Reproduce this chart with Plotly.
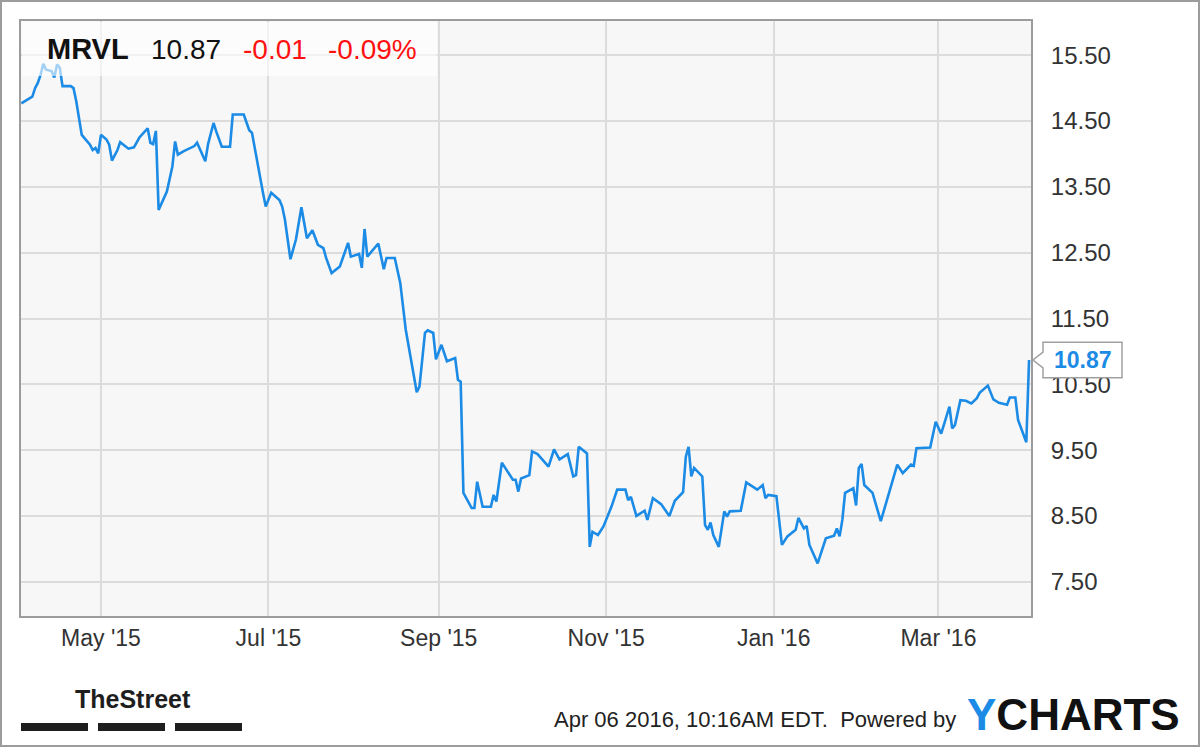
import plotly.graph_objects as go

# ---- data ----
dates = [
    "2015-04-02", "2015-04-06", "2015-04-07", "2015-04-08", "2015-04-09", "2015-04-10", "2015-04-11",
    "2015-04-13", "2015-04-14", "2015-04-15", "2015-04-16", "2015-04-17", "2015-04-20", "2015-04-21",
    "2015-04-22", "2015-04-23", "2015-04-24", "2015-04-27", "2015-04-28", "2015-04-29", "2015-04-30",
    "2015-05-01", "2015-05-03", "2015-05-04", "2015-05-05", "2015-05-07", "2015-05-08", "2015-05-11",
    "2015-05-13", "2015-05-15", "2015-05-18", "2015-05-19", "2015-05-20", "2015-05-21", "2015-05-22",
    "2015-05-25", "2015-05-27", "2015-05-28", "2015-05-29", "2015-05-31", "2015-06-02", "2015-06-04",
    "2015-06-05", "2015-06-08", "2015-06-09", "2015-06-11", "2015-06-12", "2015-06-14", "2015-06-17",
    "2015-06-18", "2015-06-22", "2015-06-24", "2015-06-25", "2015-06-27", "2015-06-29", "2015-06-30",
    "2015-07-02", "2015-07-05", "2015-07-06", "2015-07-07", "2015-07-09", "2015-07-11", "2015-07-13",
    "2015-07-15", "2015-07-17", "2015-07-19", "2015-07-21", "2015-07-22", "2015-07-24", "2015-07-27",
    "2015-07-30", "2015-07-31", "2015-08-03", "2015-08-04", "2015-08-05", "2015-08-06", "2015-08-10",
    "2015-08-12", "2015-08-13", "2015-08-16", "2015-08-18", "2015-08-20", "2015-08-24", "2015-08-25",
    "2015-08-27", "2015-08-28", "2015-08-30", "2015-08-31", "2015-09-02", "2015-09-04", "2015-09-07",
    "2015-09-08", "2015-09-09", "2015-09-10", "2015-09-13", "2015-09-14", "2015-09-15", "2015-09-17",
    "2015-09-20", "2015-09-21", "2015-09-22", "2015-09-24", "2015-09-28", "2015-09-29", "2015-09-30",
    "2015-10-01", "2015-10-04", "2015-10-05", "2015-10-07", "2015-10-11", "2015-10-13", "2015-10-15",
    "2015-10-18", "2015-10-20", "2015-10-21", "2015-10-22", "2015-10-25", "2015-10-26", "2015-10-27",
    "2015-10-29", "2015-10-31", "2015-11-03", "2015-11-05", "2015-11-08", "2015-11-09", "2015-11-10",
    "2015-11-12", "2015-11-15", "2015-11-16", "2015-11-18", "2015-11-21", "2015-11-24", "2015-11-26",
    "2015-11-29", "2015-11-30", "2015-12-01", "2015-12-02", "2015-12-03", "2015-12-06", "2015-12-07",
    "2015-12-08", "2015-12-09", "2015-12-10", "2015-12-12", "2015-12-14", "2015-12-15", "2015-12-16",
    "2015-12-20", "2015-12-22", "2015-12-26", "2015-12-28", "2015-12-29", "2015-12-30", "2016-01-02",
    "2016-01-04", "2016-01-06", "2016-01-09", "2016-01-10", "2016-01-12", "2016-01-13", "2016-01-14",
    "2016-01-17", "2016-01-20", "2016-01-23", "2016-01-24", "2016-01-25", "2016-01-26", "2016-01-27",
    "2016-01-30", "2016-01-31", "2016-02-01", "2016-02-02", "2016-02-03", "2016-02-06", "2016-02-09",
    "2016-02-15", "2016-02-17", "2016-02-20", "2016-02-21", "2016-02-22", "2016-02-27", "2016-02-29",
    "2016-03-02", "2016-03-05", "2016-03-06", "2016-03-07", "2016-03-09", "2016-03-11", "2016-03-13",
    "2016-03-15", "2016-03-16", "2016-03-19", "2016-03-21", "2016-03-23", "2016-03-26", "2016-03-27",
    "2016-03-29", "2016-03-30", "2016-04-02", "2016-04-03",
]
prices = [
    14.77, 14.87, 15.00, 15.08, 15.20, 15.37, 15.28,
    15.26, 15.16, 15.36, 15.31, 15.03, 15.03, 15.00,
    14.80, 14.52, 14.29, 14.14, 14.06, 14.09, 14.01,
    14.29, 14.22, 14.14, 13.90, 14.06, 14.18, 14.08,
    14.10, 14.25, 14.39, 14.17, 14.15, 14.35, 13.15,
    13.43, 13.81, 14.19, 13.99, 14.04, 14.08, 14.12,
    14.17, 13.89, 14.15, 14.47, 14.34, 14.11, 14.11,
    14.60, 14.60, 14.36, 14.32, 13.84, 13.41, 13.20,
    13.41, 13.30, 13.20, 13.00, 12.40, 12.70, 13.19,
    12.72, 12.84, 12.62, 12.57, 12.42, 12.19, 12.29,
    12.65, 12.44, 12.48, 12.27, 12.86, 12.44, 12.64,
    12.25, 12.42, 12.42, 12.04, 11.33, 10.38, 10.47,
    11.28, 11.32, 11.28, 10.88, 11.10, 10.85, 10.90,
    10.57, 10.54, 8.85, 8.62, 8.62, 9.02, 8.64,
    8.64, 8.82, 8.72, 9.31, 9.05, 9.05, 8.87,
    9.07, 9.12, 9.48, 9.44, 9.25, 9.51, 9.36,
    9.44, 9.10, 9.12, 9.55, 9.45, 8.03, 8.26,
    8.21, 8.34, 8.65, 8.90, 8.90, 8.74, 8.79,
    8.50, 8.58, 8.44, 8.77, 8.68, 8.50, 8.73,
    8.86, 9.40, 9.55, 9.10, 9.23, 9.10, 8.36,
    8.29, 8.40, 8.21, 8.03, 8.57, 8.49, 8.57,
    8.58, 9.01, 8.90, 8.97, 8.77, 8.82, 8.80,
    8.06, 8.19, 8.29, 8.47, 8.31, 8.35, 8.06,
    7.78, 8.16, 8.20, 8.31, 8.19, 8.44, 8.85,
    8.92, 8.66, 9.23, 9.29, 8.97, 8.85, 8.42,
    9.28, 9.15, 9.28, 9.26, 9.53, 9.54, 9.93,
    9.75, 10.16, 9.83, 9.88, 10.26, 10.25, 10.21,
    10.29, 10.37, 10.48, 10.27, 10.22, 10.19, 10.30,
    10.30, 9.96, 9.62, 10.87,
]
ticker = "MRVL"
last_price = "10.87"
change = "-0.01"
change_pct = "-0.09%"
y_ticks = [7.5, 8.5, 9.5, 10.5, 11.5, 12.5, 13.5, 14.5, 15.5]
timestamp = "Apr 06 2016, 10:16AM EDT.  Powered by"

# ---- layout constants ----
W, H = 1200, 747
L, R, T, B = 21, 1031, 21, 616   # plot area in pixels
BLUE = "#1b8be6"
FONT = "Liberation Sans, Arial, Helvetica, sans-serif"


def px(x):
    return (x - L) / (R - L)


def py(y):
    return (B - y) / (B - T)


fig = go.Figure()
fig.add_trace(go.Scatter(
    x=dates, y=prices, mode="lines",
    line=dict(color=BLUE, width=2.6),
    hoverinfo="skip", showlegend=False,
))

shapes = []
# outer border of the image
shapes.append(dict(type="rect", xref="paper", yref="paper",
                   x0=px(1), x1=px(W - 1), y0=py(1), y1=py(H - 1),
                   line=dict(color="#9c9c9c", width=2), layer="below"))
# translucent header panel
shapes.append(dict(type="rect", xref="paper", yref="paper",
                   x0=px(22), x1=px(437), y0=py(22), y1=py(76),
                   fillcolor="rgba(255,255,255,0.6)", line=dict(width=0), layer="above"))
# TheStreet bars
for x0, x1 in [(21, 88), (98, 165), (175, 242)]:
    shapes.append(dict(type="rect", xref="paper", yref="paper",
                       x0=px(x0), x1=px(x1), y0=py(723), y1=py(731),
                       fillcolor="#1e1e1e", line=dict(width=0)))
# last value callout with notch
v = prices[-1]
hh = 0.27
path = (f"M {px(1043)} {v + hh} L {px(1122)} {v + hh} L {px(1122)} {v - hh} "
        f"L {px(1043)} {v - hh} L {px(1043)} {v - 0.12} L {px(1033)} {v} "
        f"L {px(1043)} {v + 0.12} Z")
shapes.append(dict(type="path", xref="paper", yref="y", path=path,
                   fillcolor="white", line=dict(color="#a0a0a0", width=1.5), layer="above"))

annotations = []


def add_text(text, x, y, size, color="#111", anchor="left", bold=False, family=FONT):
    annotations.append(dict(
        text=f"<b>{text}</b>" if bold else text,
        xref="paper", yref="paper", x=px(x), y=py(y),
        xanchor=anchor, yanchor="middle", showarrow=False,
        font=dict(size=size, color=color, family=family),
    ))


add_text(ticker, 45, 49, 29, "#111", bold=True)
add_text(last_price, 149, 49, 28, "#111")
add_text(change, 241, 49, 28, "#ff1010")
add_text(change_pct, 326, 49, 28, "#ff1010")

annotations.append(dict(
    text=f"<b>{last_price}</b>", xref="paper", yref="y", x=px(1083), y=v,
    xanchor="center", yanchor="middle", showarrow=False,
    font=dict(size=23, color=BLUE, family=FONT),
))

add_text("TheStreet", 133, 699, 25, "#1e1e1e", anchor="center", bold=True,
         family="Liberation Sans Narrow, Arial Narrow, Liberation Sans, sans-serif")
add_text(timestamp, 958, 719, 22, "#222", anchor="right")
annotations.append(dict(
    text=f"<b><span style='color:{BLUE}'>Y</span>CHARTS</b>",
    xref="paper", yref="paper", x=px(965), y=py(714),
    xanchor="left", yanchor="middle", showarrow=False,
    font=dict(size=44, color="#111", family=FONT),
))

fig.update_layout(
    width=W, height=H,
    margin=dict(l=L, r=W - R, t=T, b=H - B, pad=0),
    paper_bgcolor="white", plot_bgcolor="#f7f7f7",
    showlegend=False,
    shapes=shapes, annotations=annotations,
    font=dict(family=FONT, color="#333"),
)
fig.update_xaxes(
    type="date", range=["2015-04-01 21:00", "2016-04-03 17:00"],
    tick0="2015-05-01", dtick="M2", tickformat="%b '%y",
    showgrid=True, gridcolor="#dcdcdc", gridwidth=2,
    showline=True, linecolor="#9c9c9c", linewidth=2, mirror=True,
    ticks="", ticklabelstandoff=0,
    tickfont=dict(size=23, color="#333", family=FONT),
    zeroline=False, fixedrange=True,
)
fig.update_yaxes(
    range=[6.98, 16.02], side="right",
    tickvals=y_ticks, tickformat=".2f",
    showgrid=True, gridcolor="#dcdcdc", gridwidth=2,
    showline=True, linecolor="#9c9c9c", linewidth=2, mirror=True,
    ticks="", ticklabelstandoff=13,
    tickfont=dict(size=24, color="#333", family=FONT),
    zeroline=False, fixedrange=True,
)

fig.write_html("out.html", config={"displayModeBar": False},
               post_script="document.body.style.margin='0';")
